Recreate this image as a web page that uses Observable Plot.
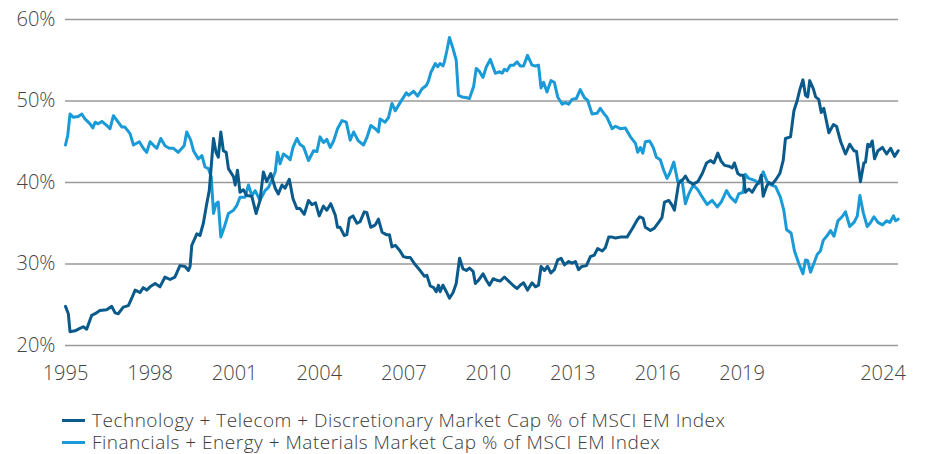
<!DOCTYPE html>
<html>
<head>
<meta charset="utf-8">
<script src="https://cdn.jsdelivr.net/npm/d3@7"></script>
<script src="https://cdn.jsdelivr.net/npm/@observablehq/plot@0.6"></script>
<style>
  html, body { margin: 0; padding: 0; background: #fff; overflow: hidden; }
  #chart { width: 925px; }
  .legend { font-family: "Open Sans", sans-serif; font-weight: 300; font-size: 19px; letter-spacing: 0.5px; color: #3a3a3a; margin-left: 62px; line-height: 22px; margin-top: 11px; }
  .legend .row { display: flex; align-items: center; white-space: nowrap; height: 22px; }
  .legend .sw { display: block; width: 23px; height: 3px; margin-right: 7px; flex: none; }
  .legend .lab { display: block; line-height: 22px; height: 22px; }
</style>
</head>
<body>
<div id="chart"></div>
<script>
// Decimal years and values (% of MSCI EM Index)
const techYears = [1995.00,1995.10,1995.16,1995.34,1995.51,1995.63,1995.75,1995.93,1996.05,1996.22,1996.46,1996.64,1996.76,1996.87,1997.05,1997.23,1997.35,1997.47,1997.64,1997.76,1997.88,1998.00,1998.18,1998.35,1998.53,1998.71,1998.88,1999.06,1999.24,1999.36,1999.42,1999.48,1999.66,1999.77,1999.89,2000.01,2000.10,2000.25,2000.34,2000.42,2000.51,2000.60,2000.70,2000.78,2000.96,2001.02,2001.10,2001.19,2001.31,2001.43,2001.61,2001.76,2001.90,2002.02,2002.14,2002.28,2002.44,2002.55,2002.68,2002.79,2002.94,2003.07,2003.21,2003.32,2003.47,2003.62,2003.74,2003.87,2004.00,2004.15,2004.27,2004.41,2004.57,2004.65,2004.74,2004.89,2004.98,2005.07,2005.20,2005.34,2005.45,2005.60,2005.69,2005.83,2005.99,2006.10,2006.23,2006.38,2006.49,2006.58,2006.70,2006.85,2006.99,2007.11,2007.23,2007.41,2007.58,2007.73,2007.82,2007.94,2008.06,2008.15,2008.23,2008.29,2008.39,2008.51,2008.62,2008.75,2008.86,2008.98,2009.10,2009.22,2009.33,2009.46,2009.54,2009.65,2009.81,2009.93,2010.04,2010.17,2010.31,2010.42,2010.57,2010.72,2010.90,2011.02,2011.13,2011.25,2011.39,2011.55,2011.67,2011.78,2011.87,2011.99,2012.10,2012.22,2012.34,2012.46,2012.58,2012.70,2012.85,2012.97,2013.09,2013.20,2013.32,2013.48,2013.62,2013.76,2013.88,2014.04,2014.15,2014.27,2014.39,2014.51,2014.68,2014.92,2015.10,2015.28,2015.37,2015.49,2015.57,2015.75,2015.89,2016.04,2016.16,2016.25,2016.40,2016.52,2016.60,2016.75,2016.91,2016.99,2017.11,2017.27,2017.43,2017.59,2017.74,2017.88,2018.00,2018.14,2018.26,2018.38,2018.53,2018.65,2018.73,2018.85,2018.94,2019.04,2019.12,2019.24,2019.36,2019.51,2019.63,2019.68,2019.75,2019.87,2019.95,2020.07,2020.19,2020.34,2020.46,2020.54,2020.72,2020.84,2020.96,2021.05,2021.16,2021.25,2021.33,2021.40,2021.53,2021.61,2021.72,2021.81,2021.90,2022.08,2022.24,2022.35,2022.50,2022.67,2022.82,2022.97,2023.06,2023.20,2023.32,2023.38,2023.46,2023.53,2023.62,2023.70,2023.82,2023.98,2024.13,2024.27,2024.41,2024.54];
const techValues = [24.8,23.9,21.7,21.8,22.1,22.3,22.0,23.7,23.9,24.3,24.4,24.8,24.0,23.9,24.7,24.9,25.8,26.8,26.5,27.1,26.8,27.2,27.6,27.2,28.4,28.1,28.4,29.8,29.7,29.2,29.7,32.3,33.7,33.5,35.0,37.4,39.0,45.4,43.7,43.1,46.2,43.9,43.7,41.7,40.7,39.7,41.5,38.8,39.1,38.4,38.3,36.2,37.8,41.3,40.1,41.1,39.3,38.6,39.7,39.3,40.4,38.0,36.8,36.8,36.1,37.8,37.3,37.5,35.9,37.1,36.6,37.4,36.0,34.5,34.5,33.5,33.6,35.6,35.9,35.0,35.2,36.4,36.3,34.5,34.8,35.5,33.9,33.6,33.6,32.1,32.3,31.7,30.9,30.8,30.8,29.9,29.2,28.5,28.6,27.3,27.1,26.6,27.4,26.6,27.4,26.6,25.8,26.5,27.6,30.7,29.4,29.2,29.5,29.1,27.6,28.0,28.8,28.0,27.4,28.2,28.0,27.9,28.4,27.9,27.3,27.0,27.4,27.7,26.8,27.7,27.2,27.4,29.7,29.2,29.7,28.9,29.3,30.5,30.7,29.9,30.3,30.1,30.3,29.3,29.7,29.8,30.9,31.1,31.9,31.6,32.0,33.3,33.3,33.2,33.3,33.3,34.3,35.4,35.8,35.6,34.5,34.1,34.4,35.1,35.7,37.6,37.8,37.2,36.6,39.9,40.4,40.8,40.1,39.8,40.1,41.1,42.4,42.7,42.4,43.6,42.6,42.1,42.0,41.8,42.4,41.1,40.9,40.9,38.8,39.2,38.8,39.7,40.2,40.9,38.3,39.5,40.0,39.8,40.3,41.1,42.7,45.4,45.6,48.8,50.1,51.4,52.6,50.7,50.5,52.5,51.5,50.5,50.2,48.6,49.1,46.1,47.1,46.9,45.0,43.5,44.7,43.9,43.8,40.1,42.4,42.5,44.7,44.4,45.1,42.9,43.9,44.3,43.5,44.2,43.2,43.9];

const finYears = [1995.00,1995.08,1995.16,1995.28,1995.45,1995.58,1995.69,1995.87,1995.97,1996.05,1996.16,1996.29,1996.46,1996.58,1996.70,1996.87,1997.00,1997.11,1997.29,1997.41,1997.62,1997.76,1997.88,1998.00,1998.14,1998.24,1998.38,1998.53,1998.68,1998.83,1999.00,1999.13,1999.21,1999.30,1999.44,1999.54,1999.71,1999.84,1999.95,2000.07,2000.17,2000.25,2000.34,2000.42,2000.51,2000.63,2000.78,2000.96,2001.08,2001.19,2001.37,2001.49,2001.61,2001.73,2001.90,2002.08,2002.20,2002.32,2002.44,2002.52,2002.61,2002.73,2002.85,2002.97,2003.07,2003.21,2003.31,2003.44,2003.62,2003.80,2003.92,2004.03,2004.15,2004.27,2004.39,2004.51,2004.65,2004.81,2004.96,2005.10,2005.22,2005.39,2005.57,2005.69,2005.83,2005.99,2006.10,2006.16,2006.34,2006.46,2006.58,2006.70,2006.87,2007.09,2007.17,2007.35,2007.49,2007.65,2007.80,2007.88,2007.96,2008.12,2008.20,2008.29,2008.39,2008.44,2008.53,2008.62,2008.75,2008.86,2008.94,2009.07,2009.24,2009.33,2009.48,2009.57,2009.69,2009.81,2009.93,2010.07,2010.25,2010.40,2010.49,2010.57,2010.66,2010.78,2010.90,2011.02,2011.13,2011.25,2011.39,2011.55,2011.67,2011.78,2011.87,2011.96,2012.08,2012.22,2012.34,2012.46,2012.62,2012.73,2012.85,2012.97,2013.12,2013.26,2013.41,2013.52,2013.68,2013.86,2013.97,2014.09,2014.21,2014.39,2014.51,2014.68,2014.86,2015.04,2015.22,2015.30,2015.39,2015.48,2015.57,2015.72,2015.85,2015.96,2016.10,2016.22,2016.34,2016.43,2016.58,2016.72,2016.87,2016.99,2017.11,2017.27,2017.43,2017.59,2017.76,2017.94,2018.12,2018.26,2018.45,2018.59,2018.77,2018.88,2019.04,2019.12,2019.24,2019.42,2019.60,2019.75,2019.89,2020.03,2020.19,2020.36,2020.48,2020.58,2020.74,2020.86,2021.01,2021.16,2021.25,2021.33,2021.43,2021.55,2021.67,2021.78,2021.88,2022.00,2022.14,2022.26,2022.40,2022.55,2022.67,2022.82,2022.97,2023.09,2023.18,2023.30,2023.44,2023.56,2023.68,2023.82,2023.98,2024.13,2024.24,2024.37,2024.45,2024.54];
const finValues = [44.6,45.8,48.4,48.0,48.1,48.4,47.8,47.2,46.7,47.4,47.2,47.5,47.0,46.6,48.2,47.4,46.8,46.8,46.0,44.6,45.0,44.2,43.7,45.0,44.5,44.2,45.4,44.5,44.2,44.2,43.7,44.2,44.5,46.2,45.2,43.9,42.9,43.3,41.9,41.7,40.7,36.2,37.4,37.6,33.3,34.5,36.2,36.6,37.2,38.2,38.2,39.7,38.4,39.0,37.8,39.0,39.4,40.3,41.3,43.7,42.3,43.5,43.2,42.8,44.3,45.4,44.7,44.4,42.7,43.9,43.8,45.6,44.9,45.3,44.3,45.1,46.6,47.6,47.4,45.2,46.2,45.1,44.6,45.5,47.0,46.6,46.2,47.8,47.4,48.0,49.7,48.8,49.8,51.0,50.7,51.2,50.6,51.5,51.9,52.5,53.5,54.6,54.2,54.6,54.3,54.8,56.2,57.8,56.4,55.0,50.7,50.5,50.4,50.3,51.8,54.0,53.6,52.9,54.2,55.1,53.4,53.6,53.4,53.9,53.7,54.4,54.4,54.8,54.3,54.3,55.6,54.4,54.3,54.4,51.6,52.3,51.1,52.5,52.3,50.5,49.6,49.8,49.6,50.2,50.3,51.4,50.4,50.1,48.4,48.5,49.1,48.5,48.0,46.6,46.9,46.6,46.7,45.6,44.8,43.7,44.3,43.6,45.0,45.1,44.3,43.1,42.8,41.5,40.5,41.1,42.5,40.1,40.3,37.4,38.6,39.7,39.1,38.2,37.3,37.8,37.0,37.6,39.0,38.2,37.6,38.6,38.8,41.0,40.5,40.3,39.9,41.3,40.1,39.7,39.5,38.2,36.6,34.2,33.8,31.6,30.1,28.8,30.5,30.4,29.0,30.1,31.2,31.6,32.9,33.4,34.1,33.4,35.3,35.8,36.4,34.6,35.1,35.9,38.4,36.3,34.6,35.1,35.8,35.1,34.8,35.3,35.1,35.9,35.3,35.5];

const xTicks = [1995, 1998, 2001, 2004, 2007, 2010, 2013, 2016, 2019, 2024];
const yTicks = [20, 30, 40, 50, 60];

const seriesNames = [
  "Technology + Telecom + Discretionary Market Cap % of MSCI EM Index",
  "Financials + Energy + Materials Market Cap % of MSCI EM Index"
];
const colors = ["#0b5a8c", "#1a9ad6"];

const tech = techYears.map((y, i) => ({year: y, value: techValues[i]}));
const fin = finYears.map((y, i) => ({year: y, value: finValues[i]}));

const chart = Plot.plot({
  width: 925,
  height: 398,
  marginTop: 19,
  marginBottom: 53,
  marginLeft: 65,
  marginRight: 27,
  style: {fontFamily: "'Open Sans', sans-serif", fontWeight: 300, fontSize: "20px", color: "#444", background: "#fff"},
  x: {domain: [1995, 2024.55], label: null},
  y: {domain: [20, 60], label: null},
  marks: [
    Plot.ruleY(yTicks, {stroke: "#9a9a9a", strokeWidth: 1.5}),
    Plot.line(fin, {x: "year", y: "value", stroke: colors[1], strokeWidth: 3, strokeLinejoin: "round"}),
    Plot.line(tech, {x: "year", y: "value", stroke: colors[0], strokeWidth: 3, strokeLinejoin: "round"}),
    Plot.axisX({ticks: xTicks, tickFormat: d => String(d), tickSize: 0, tickPadding: 20, fontSize: 20}),
    Plot.axisY({ticks: yTicks, tickFormat: d => d + "%", tickSize: 0, tickPadding: 10, fontSize: 20})
  ]
});
document.getElementById("chart").appendChild(chart);

const legend = document.createElement("div");
legend.className = "legend";
seriesNames.forEach((name, i) => {
  const row = document.createElement("div");
  row.className = "row";
  const sw = document.createElement("span");
  sw.className = "sw";
  sw.style.background = colors[i];
  row.appendChild(sw);
  const label = document.createElement("span");
  label.className = "lab";
  label.textContent = name;
  row.appendChild(label);
  legend.appendChild(row);
});
document.getElementById("chart").appendChild(legend);
</script>
</body>
</html>
